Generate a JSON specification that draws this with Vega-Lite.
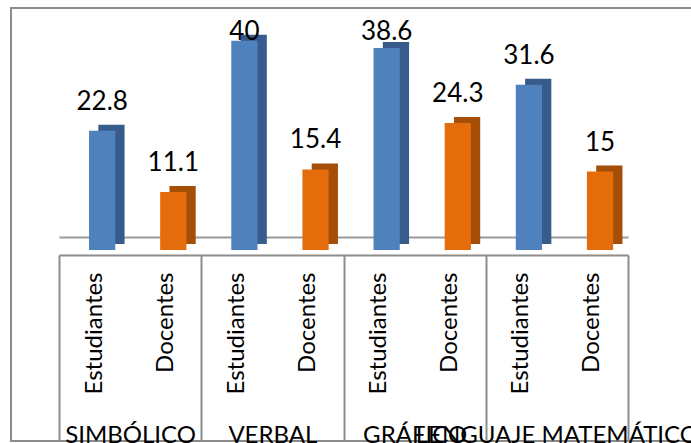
{
  "$schema": "https://vega.github.io/schema/vega-lite/v6.json",
  "width": 681,
  "height": 433,
  "autosize": "none",
  "padding": {"left": 11, "top": 8, "right": 0, "bottom": 2},
  "config": {
    "view": {"stroke": "#8C8C8C", "strokeWidth": 2},
    "font": "Lato",
    "axis": {"title": null}
  },
  "data": {
    "values": [
      {"grupo": "SIMBÓLICO", "serie": "Estudiantes", "valor": 22.8},
      {"grupo": "SIMBÓLICO", "serie": "Docentes", "valor": 11.1},
      {"grupo": "VERBAL", "serie": "Estudiantes", "valor": 40},
      {"grupo": "VERBAL", "serie": "Docentes", "valor": 15.4},
      {"grupo": "GRÁFICO", "serie": "Estudiantes", "valor": 38.6},
      {"grupo": "GRÁFICO", "serie": "Docentes", "valor": 24.3},
      {"grupo": "LENGUAJE MATEMÁTICO", "serie": "Estudiantes", "valor": 31.6},
      {"grupo": "LENGUAJE MATEMÁTICO", "serie": "Docentes", "valor": 15}
    ]
  },
  "transform": [{"calculate": "datum.grupo + '|' + datum.serie", "as": "clave"}],
  "layer": [
    {
      "layer": [
        {
          "mark": {"type": "bar", "width": {"band": 0.41}, "xOffset": 16.9, "x2Offset": 16.9, "yOffset": -6, "y2Offset": -6},
          "encoding": {
            "x": {
              "field": "clave", "type": "nominal", "sort": null, "scale": {"range": [48, 617]},
              "axis": {
                "orient": "bottom", "offset": -204, "domain": true, "domainColor": "#999999", "domainWidth": 2,
                "ticks": false, "labelAngle": 270, "labelPadding": 35, "labelFontSize": 24, "labelColor": "#000000",
                "labelExpr": "split(datum.label, '|')[1]", "labelOverlap": false, "labelLimit": 0, "zindex": 0, "grid": false
              }
            },
            "y": {"field": "valor", "type": "quantitative", "scale": {"domain": [-36.52, 46.27], "nice": false, "zero": false}, "axis": null},
            "y2": {"datum": 0},
            "color": {"field": "serie", "type": "nominal", "scale": {"domain": ["Estudiantes", "Docentes"], "range": ["#375C8C", "#A44E07"]}, "legend": null}
          }
        },
        {
          "mark": {"type": "bar", "width": {"band": 0.41}, "xOffset": 7.6, "x2Offset": 7.6},
          "encoding": {
            "x": {"field": "clave", "type": "nominal", "sort": null},
            "y": {"field": "valor", "type": "quantitative"},
            "y2": {"datum": 0},
            "color": {"field": "serie", "type": "nominal", "scale": {"domain": ["Estudiantes", "Docentes"], "range": ["#4F81BD", "#E46C0A"]}, "legend": null}
          }
        },
        {
          "transform": [{"filter": "datum.valor < 38"}],
          "mark": {"type": "text", "dy": -21, "xOffset": 7.6, "fontSize": 26, "baseline": "alphabetic", "color": "#000000"},
          "encoding": {
            "x": {"field": "clave", "type": "nominal", "sort": null},
            "y": {"field": "valor", "type": "quantitative"},
            "text": {"field": "valor", "type": "quantitative"}
          }
        },
        {
          "transform": [{"filter": "datum.valor >= 38"}],
          "mark": {"type": "text", "xOffset": 7.6, "fontSize": 26, "baseline": "alphabetic", "color": "#000000"},
          "encoding": {
            "x": {"field": "clave", "type": "nominal", "sort": null},
            "y": {"datum": 40.15},
            "text": {"field": "valor", "type": "quantitative"}
          }
        }
      ],
      "resolve": {"scale": {"color": "independent"}}
    },
    {
      "mark": {"type": "point", "opacity": 0},
      "encoding": {
        "x": {
          "field": "grupo", "type": "nominal", "sort": null, "scale": {"range": [48, 617]},
          "axis": {
            "orient": "bottom", "offset": -186, "domain": true, "domainColor": "#8C8C8C", "domainWidth": 2,
            "ticks": true, "tickBand": "extent", "tickSize": 186, "tickColor": "#8C8C8C", "tickWidth": 2,
            "labelAngle": 0, "labelPadding": 1, "labelBaseline": "alphabetic", "labelFontSize": 24, "labelColor": "#000000",
            "labelOverlap": false, "labelBound": false, "labelFlush": false, "labelLimit": 0, "grid": false
          }
        },
        "y": {"datum": 0}
      }
    }
  ],
  "resolve": {"scale": {"x": "independent"}, "axis": {"x": "independent"}}
}
